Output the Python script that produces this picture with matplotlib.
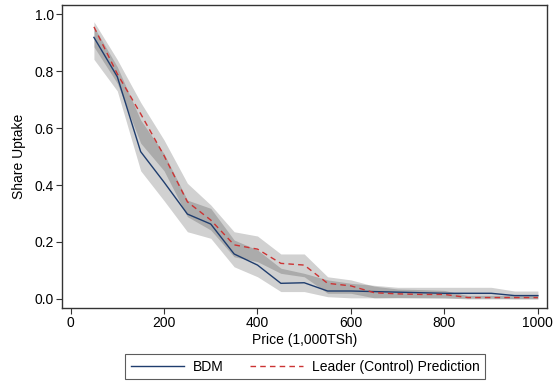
import matplotlib
matplotlib.use("Agg")
import matplotlib.pyplot as plt

plt.rcParams['font.family'] = ['Liberation Sans', 'DejaVu Sans']

prices = [50, 100, 150, 200, 250, 300, 350, 400, 450, 500,
          550, 600, 650, 700, 750, 800, 850, 900, 950, 1000]

bdm = [0.918, 0.78, 0.517, 0.41, 0.298, 0.263, 0.158, 0.119, 0.055, 0.057,
       0.028, 0.028, 0.026, 0.024, 0.022, 0.020, 0.020, 0.020, 0.012, 0.012]
bdm_lo = [0.841, 0.73, 0.45, 0.345, 0.236, 0.213, 0.113, 0.078, 0.026, 0.026,
          0.008, 0.004, 0.004, 0.004, 0.004, 0.003, 0.003, 0.003, 0.001, 0.001]
bdm_hi = [0.955, 0.815, 0.628, 0.51, 0.347, 0.318, 0.207, 0.172, 0.108, 0.09,
          0.067, 0.055, 0.048, 0.041, 0.041, 0.041, 0.041, 0.041, 0.028, 0.028]

leader = [0.955, 0.79, 0.65, 0.503, 0.341, 0.277, 0.19, 0.175, 0.125, 0.119,
          0.055, 0.046, 0.022, 0.018, 0.016, 0.016, 0.005, 0.005, 0.005, 0.005]
leader_lo = [0.885, 0.757, 0.547, 0.45, 0.289, 0.242, 0.148, 0.131, 0.09, 0.078,
             0.02, 0.02, 0.004, 0.005, 0.004, 0.004, 0.0, 0.0, 0.0, 0.0]
leader_hi = [0.973, 0.84, 0.69, 0.558, 0.406, 0.33, 0.236, 0.221, 0.158, 0.158,
             0.078, 0.067, 0.045, 0.035, 0.033, 0.03, 0.012, 0.012, 0.012, 0.012]

xticks = [0, 200, 400, 600, 800, 1000]
yticks = [0.0, 0.2, 0.4, 0.6, 0.8, 1.0]

fig = plt.figure(figsize=(5.54, 3.85), dpi=100)
ax = fig.add_axes([0.112, 0.2, 0.875, 0.787])

ax.fill_between(prices, bdm_lo, bdm_hi, color='black', alpha=0.18, linewidth=0)
ax.fill_between(prices, leader_lo, leader_hi, color='black', alpha=0.18, linewidth=0)
ax.plot(prices, bdm, color='#1f3d6e', lw=1.0, label='BDM')
ax.plot(prices, leader, color='#cc3333', lw=1.0, dashes=(4, 3),
        label='Leader (Control) Prediction')

ax.set_xlim(-18.2, 1019)
ax.set_ylim(-0.0316, 1.0316)
ax.set_xticks(xticks)
ax.set_yticks(yticks)
ax.set_yticklabels([f"{v:.1f}" for v in yticks])
ax.tick_params(axis='both', labelsize=10, length=4, width=0.8, color='#333333', pad=2)
for s in ax.spines.values():
    s.set_color('#333333')
    s.set_linewidth(1.0)
ax.set_xlabel('Price (1,000TSh)', fontsize=10, labelpad=2)
ax.set_ylabel('Share Uptake', fontsize=10, labelpad=6)

leg = fig.legend(loc='center', bbox_to_anchor=(0.551, 0.047), ncol=2,
                 fontsize=10, frameon=True, fancybox=False, edgecolor='#333333',
                 handlelength=3.8, columnspacing=1.9, handletextpad=0.65,
                 borderpad=0.4)
leg.get_frame().set_linewidth(0.8)

fig.savefig('out.png', dpi=100)
